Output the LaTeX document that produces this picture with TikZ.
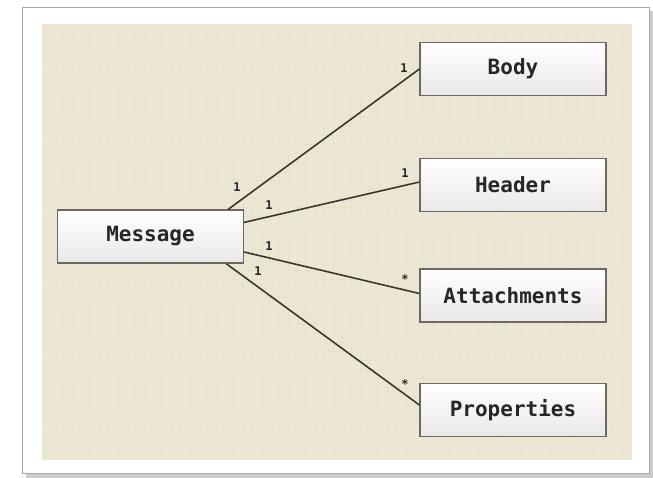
\documentclass[tikz,border=0pt]{standalone}
\usepackage{fontspec}
\setmonofont{DejaVu Sans Mono}
\usepackage{tikz}
\usetikzlibrary{positioning}
\usepackage{xcolor}

\definecolor{paper}{HTML}{ECE6D5}
\definecolor{gridline}{HTML}{E7E0CD}
\definecolor{boxline}{HTML}{6E6860}
\definecolor{linkcol}{HTML}{3A372E}

\tikzset{
  classbox/.style={draw=boxline, line width=1.2pt, top color=white, bottom color=gray!18,
    minimum width=186pt, minimum height=53pt, font=\ttfamily\bfseries\fontsize{21}{23}\selectfont,
    text=black!85, inner sep=0pt},
  link/.style={draw=linkcol, line width=1.6pt},
  mult/.style={font=\ttfamily\bfseries\fontsize{12}{13}\selectfont, text=black!85, inner sep=0pt}
}

\begin{document}
\begin{tikzpicture}[x=1pt, y=-1pt]
            \useasboundingbox (0,0) rectangle (653,478);
            % Frame and background
            \fill[white] (0,0) rectangle (653,478);
            \fill[gray!40] (26,11) rectangle (653,478);
            \draw[gray!70, fill=white] (22,7) rectangle (649,473);
            \fill[paper] (42,24) rectangle (632,460);
            \draw[gridline, step=9pt] (45,27) grid (629,457);

            % Classes
            \node[classbox] (message) at (150.5,236.5) {Message};
            \node[classbox] (body) at (513,69) {Body};
            \node[classbox] (header) at (513,185) {Header};
            \node[classbox] (attach) at (513,295.5) {Attachments};
            \node[classbox] (props) at (513,410) {Properties};

            % Associations
            \draw[link] ([xshift=-16pt]message.north east) -- (body.west);
            \draw[link] ([yshift=-13pt]message.north east) -- ([yshift=3pt]header.west);
            \draw[link] ([yshift=-15.5pt]message.east) -- ([yshift=2pt]attach.west);
            \draw[link] ([xshift=-18pt]message.south east) -- ([yshift=5pt]props.west);

            % Multiplicities
            \node[mult] (mb) at (237,187) {1};
            \node[mult] (mh) at (269,205) {1};
            \node[mult] (ma) at (269,246) {1};
            \node[mult] (mp) at (258,271) {1};
            \node[mult] (tb) at (404,68) {1};
            \node[mult] (th) at (405,173) {1};
            \node[mult] (ta) at (405,279) {*};
            \node[mult] (tp) at (405,384) {*};
        \end{tikzpicture}
\end{document}
